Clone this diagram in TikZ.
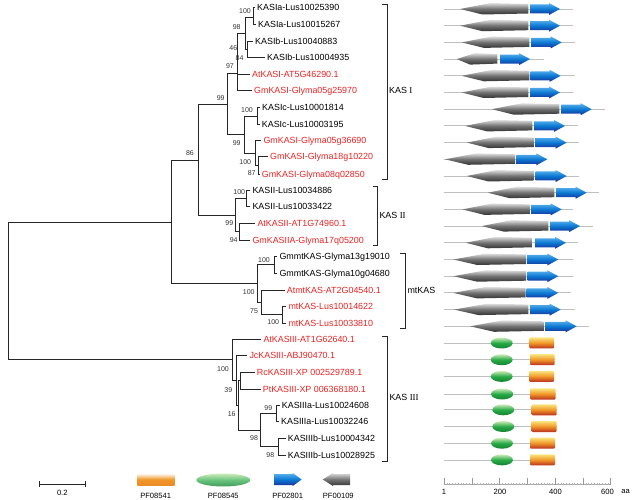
\documentclass[tikz,border=0pt]{standalone}
\usepackage{fontspec}
\setmainfont{Liberation Sans}
\newfontfamily\kasroman{Liberation Serif}
\definecolor{kasred}{RGB}{235,35,35}
\definecolor{blueA}{RGB}{95,180,240}
\definecolor{blueB}{RGB}{10,120,210}
\definecolor{blueC}{RGB}{25,45,150}
\definecolor{greenA}{RGB}{205,235,185}
\definecolor{greenB}{RGB}{40,170,70}
\definecolor{greenC}{RGB}{20,130,50}
\definecolor{orangeA}{RGB}{250,228,125}
\definecolor{orangeB}{RGB}{240,150,40}
\definecolor{orangeC}{RGB}{185,45,30}
% one KAS I/II/mt row: y, end of chain, PF00109 from/to, PF02801 from/to
\newcommand{\kasrow}[6]{%
\draw[backbone] (444,#1) -- (#2,#1);
\shade[pfgray] (#3,#1) -- ({#3+0.45*(#4-#3)},{#1-6}) -- (#4,{#1-5}) -- (#4,{#1+4.5}) -- ({#3+0.33*(#4-#3)},{#1+5.5}) -- cycle;
\shade[pfblue] (#5,{#1-4.5}) -- ({#6-11},{#1-4.5}) -- ({#6-11},{#1-6}) -- (#6,#1) -- ({#6-11},{#1+6}) -- ({#6-11},{#1+4.5}) -- (#5,{#1+4.5}) -- cycle;}
% one KAS III row: y, PF08545 from/to, PF08541 from/to
\newcommand{\kasthree}[5]{%
\draw[backbone] (444,#1) -- (#5,#1);
\shade[pfgreen] ({(#2+#3)/2},#1) ellipse [x radius={(#3-#2)/2}, y radius=5.5];
\shade[pforange, rounded corners=1pt] (#4,{#1-5.5}) rectangle (#5,{#1+5.5});}
\begin{document}
\begin{tikzpicture}[x=1pt, y=-1pt,
  leaf/.style={anchor=west, inner xsep=2pt, inner ysep=0pt, text height=6.4pt, text depth=0pt, font=\fontsize{8.9}{10}\selectfont},
  redleaf/.style={leaf, text=kasred},
  boot/.style={inner sep=0pt, font=\fontsize{7}{8}\selectfont, text=black!80},
  clade/.style={anchor=west, inner sep=0pt, font=\fontsize{8.9}{10}\selectfont},
  legend/.style={inner sep=0pt, font=\fontsize{7.6}{9}\selectfont},
  branch/.style={line width=0.7pt, black!85},
  bracket/.style={line width=0.7pt, black!85},
  backbone/.style={line width=0.8pt, gray!50},
  pfgray/.style={top color=gray!25, bottom color=black!80, middle color=black!55},
  pfblue/.style={top color=blueA, bottom color=blueC, middle color=blueB},
  pfgreen/.style={top color=greenA, bottom color=greenC, middle color=greenB},
  pforange/.style={top color=orangeA, bottom color=orangeC, middle color=orangeB}]
\useasboundingbox (0,0) rectangle (633,500);
% leaves
\node (l1)[leaf] at (255, 7.5) {KASIa-Lus10025390};
\node (l2)[leaf] at (256, 24.5) {KASIa-Lus10015267};
\node (l3)[leaf] at (253, 41) {KASIb-Lus10040883};
\node (l4)[leaf] at (265, 57.5) {KASIb-Lus10004935};
\node (l5)[redleaf] at (250, 74) {AtKASI-AT5G46290.1};
\node (l6)[redleaf] at (252, 90.7) {GmKASI-Glyma05g25970};
\node (l7)[leaf] at (260, 107.7) {KASIc-Lus10001814};
\node (l8)[leaf] at (259.7, 124) {KASIc-Lus10003195};
\node (l9)[redleaf] at (261.3, 140.7) {GmKASI-Glyma05g36690};
\node (l10)[redleaf] at (268, 156.7) {GmKASI-Glyma18g10220};
\node (l11)[redleaf] at (259.7, 174) {GmKASI-Glyma08q02850};
\node (l12)[leaf] at (250.3, 190.7) {KASII-Lus10034886};
\node (l13)[leaf] at (250.3, 206.7) {KASII-Lus10033422};
\node (l14)[redleaf] at (255.3, 223) {AtKASII-AT1G74960.1};
\node (l15)[redleaf] at (250.3, 240) {GmKASIIA-Glyma17q05200};
\node (l16)[leaf] at (277.3, 256.7) {GmmtKAS-Glyma13g19010};
\node (l17)[leaf] at (277.3, 273) {GmmtKAS-Glyma10g04680};
\node (l18)[redleaf] at (284.7, 290) {AtmtKAS-AT2G04540.1};
\node (l19)[redleaf] at (286.3, 306.7) {mtKAS-Lus10014622};
\node (l20)[redleaf] at (286.3, 323) {mtKAS-Lus10033810};
\node (l21)[redleaf] at (261.3, 339) {AtKASIII-AT1G62640.1};
\node (l22)[redleaf] at (247.3, 355.7) {JcKASIII-ABJ90470.1};
\node (l23)[redleaf] at (254.7, 372.3) {RcKASIII-XP 002529789.1};
\node (l24)[redleaf] at (260.7, 389) {PtKASIII-XP 006368180.1};
\node (l25)[leaf] at (279.7, 405.3) {KASIIIa-Lus10024608};
\node (l26)[leaf] at (279, 421.7) {KASIIIa-Lus10032246};
\node (l27)[leaf] at (285.7, 438.3) {KASIIIb-Lus10004342};
\node (l28)[leaf] at (285.7, 455) {KASIIIb-Lus10028925};
% inner nodes
\coordinate (nKIa) at (253, 17);
\coordinate (nKIb) at (247, 49);
\coordinate (n98) at (245, 33);
\coordinate (n97) at (237.5, 73);
\coordinate (nKIc) at (257, 116);
\coordinate (nG2) at (258, 165.5);
\coordinate (nG1) at (255.5, 153);
\coordinate (n99b) at (244, 134.5);
\coordinate (n99a) at (227, 104);
\coordinate (nKIIa) at (246.7, 198.7);
\coordinate (nKIIb) at (239.3, 231.5);
\coordinate (nKII) at (235, 215);
\coordinate (n86) at (198, 160);
\coordinate (nGm) at (274.3, 264.8);
\coordinate (nMtL) at (282, 314.8);
\coordinate (n75) at (261.7, 302.4);
\coordinate (nMt) at (257.5, 283.6);
\coordinate (nUp) at (171, 222);
\coordinate (nRP) at (240.5, 380.7);
\coordinate (nIIIa) at (276, 413.5);
\coordinate (nIIIb) at (278.3, 446.7);
\coordinate (nL) at (260, 430.1);
\coordinate (nR) at (238.5, 405.4);
\coordinate (nJ) at (236, 380.5);
\coordinate (nK3) at (232.3, 359.7);
\coordinate (root) at (8.3, 291);
% branches
\draw[branch] (nKIa) |- (l1.west);
\draw[branch] (nKIa) |- (l2.west);
\draw[branch] (nKIb) |- (l3.west);
\draw[branch] (nKIb) |- (l4.west);
\draw[branch] (n98) |- (nKIa);
\draw[branch] (n98) |- (nKIb);
\draw[branch] (n97) |- (n98);
\draw[branch] (n97) |- (l5.west);
\draw[branch] (n97) |- (l6.west);
\draw[branch] (nKIc) |- (l7.west);
\draw[branch] (nKIc) |- (l8.west);
\draw[branch] (nG2) |- (l10.west);
\draw[branch] (nG2) |- (l11.west);
\draw[branch] (nG1) |- (l9.west);
\draw[branch] (nG1) |- (nG2);
\draw[branch] (n99b) |- (nKIc);
\draw[branch] (n99b) |- (nG1);
\draw[branch] (n99a) |- (n97);
\draw[branch] (n99a) |- (n99b);
\draw[branch] (nKIIa) |- (l12.west);
\draw[branch] (nKIIa) |- (l13.west);
\draw[branch] (nKIIb) |- (l14.west);
\draw[branch] (nKIIb) |- (l15.west);
\draw[branch] (nKII) |- (nKIIa);
\draw[branch] (nKII) |- (nKIIb);
\draw[branch] (n86) |- (n99a);
\draw[branch] (n86) |- (nKII);
\draw[branch] (nGm) |- (l16.west);
\draw[branch] (nGm) |- (l17.west);
\draw[branch] (nMtL) |- (l19.west);
\draw[branch] (nMtL) |- (l20.west);
\draw[branch] (n75) |- (l18.west);
\draw[branch] (n75) |- (nMtL);
\draw[branch] (nMt) |- (nGm);
\draw[branch] (nMt) |- (n75);
\draw[branch] (nUp) |- (n86);
\draw[branch] (nUp) |- (nMt);
\draw[branch] (nRP) |- (l23.west);
\draw[branch] (nRP) |- (l24.west);
\draw[branch] (nIIIa) |- (l25.west);
\draw[branch] (nIIIa) |- (l26.west);
\draw[branch] (nIIIb) |- (l27.west);
\draw[branch] (nIIIb) |- (l28.west);
\draw[branch] (nL) |- (nIIIa);
\draw[branch] (nL) |- (nIIIb);
\draw[branch] (nR) |- (nRP);
\draw[branch] (nR) |- (nL);
\draw[branch] (nJ) |- (l22.west);
\draw[branch] (nJ) |- (nR);
\draw[branch] (nK3) |- (l21.west);
\draw[branch] (nK3) |- (nJ);
\draw[branch] (root) |- (nUp);
\draw[branch] (root) |- (nK3);
% bootstrap values
\node (b1)[boot] at (245, 10.7) {100};
\node (b2)[boot] at (236.7, 27.3) {98};
\node (b3)[boot] at (233.3, 47.7) {46};
\node (b4)[boot] at (239.5, 58.3) {84};
\node (b5)[boot] at (230, 66) {97};
\node (b6)[boot] at (220.7, 98.3) {99};
\node (b7)[boot] at (247, 110) {100};
\node (b8)[boot] at (236.7, 143.3) {99};
\node (b9)[boot] at (190, 153.3) {86};
\node (b10)[boot] at (245.3, 162.3) {100};
\node (b11)[boot] at (251.7, 173.3) {87};
\node (b12)[boot] at (239.3, 191.7) {100};
\node (b13)[boot] at (229.3, 223.3) {99};
\node (b14)[boot] at (233.7, 240) {94};
\node (b15)[boot] at (264, 260) {100};
\node (b16)[boot] at (248.7, 291.7) {100};
\node (b17)[boot] at (254, 310.7) {75};
\node (b18)[boot] at (273.3, 321.7) {100};
\node (b19)[boot] at (223, 369.3) {100};
\node (b20)[boot] at (228.3, 390) {39};
\node (b21)[boot] at (231.7, 414.3) {16};
\node (b22)[boot] at (268.3, 408.3) {99};
\node (b23)[boot] at (254, 438.3) {98};
\node (b24)[boot] at (270.3, 455) {98};
% clades
\draw[bracket] (382, 4.7) -- (387.3, 4.7) -- (387.3, 179) -- (382, 179);
\draw[bracket] (373, 186.7) -- (377.3, 186.7) -- (377.3, 245.7) -- (373, 245.7);
\draw[bracket] (400, 253.3) -- (405.3, 253.3) -- (405.3, 328.3) -- (400, 328.3);
\draw[bracket] (382, 336) -- (387.3, 336) -- (387.3, 461.7) -- (382, 461.7);
\node (kas1)[clade] at (389, 90.7) {KAS {\kasroman I}};
\node (kas2)[clade] at (379.3, 215.7) {KAS {\kasroman II}};
\node (kasmt)[clade] at (407.3, 290) {mtKAS};
\node (kas3)[clade] at (389.3, 397.3) {KAS {\kasroman III}};
% domains
\kasrow{9}{573.3}{460}{528.3}{530}{560}
\kasrow{25.7}{573.3}{460}{528.3}{530}{560}
\kasrow{42.4}{575}{461.7}{529.3}{531.7}{561.7}
\kasrow{59.1}{544}{456.7}{497.3}{500}{530}
\kasrow{75.8}{574.7}{461.7}{529.3}{530.7}{560.7}
\kasrow{92.5}{573.3}{461.7}{528.3}{530}{560}
\kasrow{109.2}{605}{491.7}{559.3}{561}{591.7}
\kasrow{125.9}{577.7}{465}{532.3}{534}{565}
\kasrow{142.6}{579.3}{466.7}{533.3}{535.7}{566.7}
\kasrow{159.3}{547.3}{445}{515}{516.7}{547.3}
\kasrow{176}{579.3}{466.7}{533.3}{535.7}{566.7}
\kasrow{192.7}{599.3}{487.7}{554.3}{556}{586.7}
\kasrow{209.4}{572.7}{462.3}{529.3}{531}{561.7}
\kasrow{226.1}{593.3}{481.7}{548.3}{550}{580}
\kasrow{242.8}{578.3}{465.7}{532.7}{535}{566}
\kasrow{259.5}{572.7}{453.3}{526}{527.7}{558.3}
\kasrow{276.2}{572.7}{453.3}{526}{527.7}{558.3}
\kasrow{292.9}{570.7}{453.3}{525.7}{526.7}{558.3}
\kasrow{309.6}{575}{454}{528.3}{530}{560.7}
\kasrow{326.3}{589.3}{470}{543.3}{545}{576.7}
\kasthree{343}{490.7}{512.7}{529.3}{554}
\kasthree{359.7}{490.7}{512.7}{530}{554.7}
\kasthree{376.4}{490.7}{512.7}{529.3}{554}
\kasthree{394}{491}{513.3}{530}{555.7}
\kasthree{409.8}{492.3}{514.3}{531.7}{556.7}
\kasthree{426.5}{492.3}{514.3}{531.7}{556.7}
\kasthree{443.2}{491}{513}{530}{555}
\kasthree{459.9}{491}{513}{530}{555}
% aa axis
\draw[gray!70, line width=0.4pt] (444, 484.5) -- (610.7, 484.5);
\foreach \t in {1,...,59}
  \draw[gray!60, line width=0.3pt] ({444+2.778*\t}, 484.5) -- ++(0, -1.5);
\foreach \t in {0,...,6}
  \draw[gray!80, line width=0.5pt] ({444+27.78*\t}, 484.5) -- ++(0, -6.5);
\node (ax1)[legend] at (444, 491.7) {1};
\node (ax200)[legend] at (500, 491.7) {200};
\node (ax400)[legend] at (555.5, 491.7) {400};
\node (ax600)[legend] at (607.5, 491.7) {600};
\node (axaa)[legend] at (625.5, 491.7) {aa};
% legend
\draw[branch] (39.3, 484.3) -- (85.7, 484.3);
\draw[branch] (39.3, 481.3) -- (39.3, 487.3);
\draw[branch] (85.7, 481.3) -- (85.7, 487.3);
\node (bar)[legend] at (62.3, 492.7) {0.2};
\shade[top color=white, bottom color=orangeB!90!orangeC, middle color=orangeB] (137.3, 473.3) rectangle (174.3, 485.7);
\node (pf1)[legend] at (155.7, 495.7) {PF08541};
\shade[top color=greenA, bottom color=greenC!80, middle color=greenB!70] (223.3, 480) ellipse [x radius=27, y radius=6.5];
\node (pf2)[legend] at (223.3, 495.7) {PF08545};
\shade[pfblue] (274, 474) -- (292.7, 474) -- (292.7, 473) -- (301.7, 479.5) -- (292.7, 486) -- (292.7, 485) -- (274, 485) -- cycle;
\node (pf3)[legend] at (287.7, 495.7) {PF02801};
\shade[pfgray] (322.7, 479.5) -- (333, 473) -- (333, 474) -- (350, 474) -- (350, 485) -- (333, 485) -- (333, 486) -- cycle;
\node (pf4)[legend] at (338.3, 495.7) {PF00109};
\end{tikzpicture}
\end{document}
